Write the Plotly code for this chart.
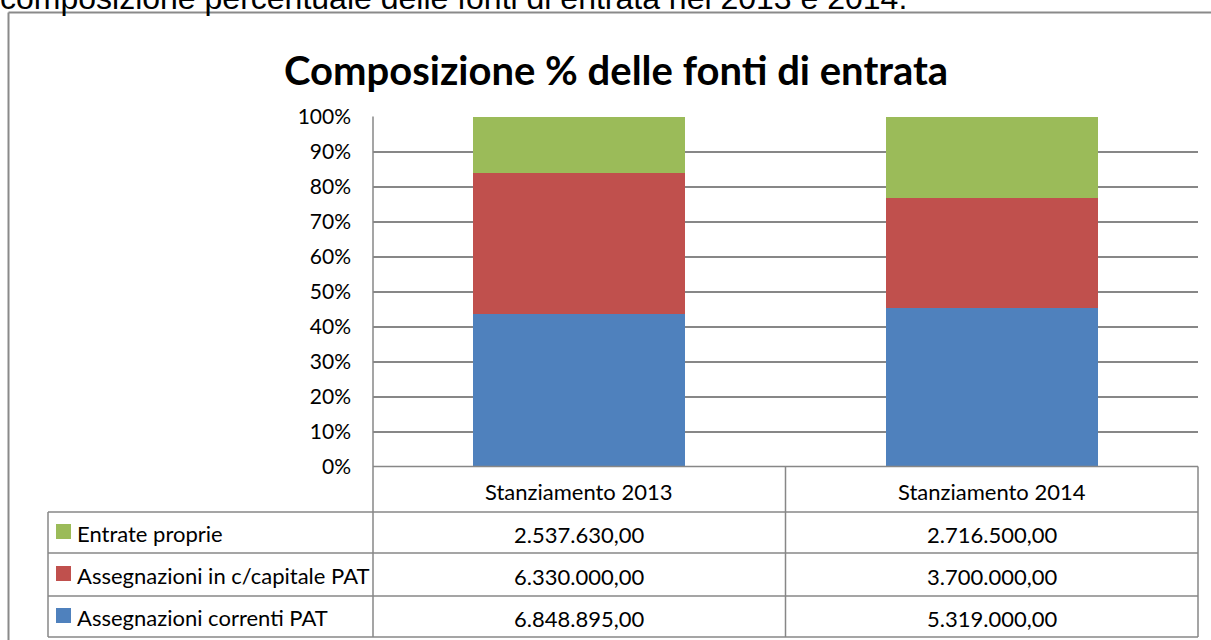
import plotly.graph_objects as go

W, H = 1211, 640

categories = ["Stanziamento 2013", "Stanziamento 2014"]
series_names = ["Assegnazioni correnti PAT", "Assegnazioni in c/capitale PAT", "Entrate proprie"]
correnti = [6848895.00, 5319000.00]
capitale = [6330000.00, 3700000.00]
proprie = [2537630.00, 2716500.00]
colors = ["#4F81BD", "#C0504D", "#9BBB59"]
tick_vals = [0, 10, 20, 30, 40, 50, 60, 70, 80, 90, 100]
tick_text = [f"{v}%" for v in tick_vals]

series_values = [correnti, capitale, proprie]

FONT = "Lato"
GRID = "#878787"


def px(x):
    return x / W


def py(y):
    return 1 - y / H


def fmt_it(v):
    s = f"{v:,.2f}"
    return s.replace(",", "X").replace(".", ",").replace("X", ".")


fig = go.Figure()
for name, vals, col in zip(series_names, series_values, colors):
    fig.add_trace(go.Bar(x=categories, y=vals, name=name, marker=dict(color=col, line=dict(width=0)),
                         width=0.515, showlegend=False))

# plot area pixels
X0, X1 = 373, 1198
Y0, Y1 = 116.5, 466.5

fig.update_layout(
    width=W, height=H,
    margin=dict(l=0, r=0, t=0, b=0, autoexpand=False),
    paper_bgcolor="white", plot_bgcolor="white",
    barmode="stack", barnorm="percent",
    font=dict(family=FONT, size=17, color="black"),
    xaxis=dict(domain=[px(X0), px(X1)], showticklabels=False, showgrid=False, zeroline=False,
               showline=False, ticks=""),
    yaxis=dict(domain=[py(Y1), py(Y0)], range=[0, 100], tickvals=tick_vals, ticktext=tick_text,
               showgrid=True, gridcolor=GRID, gridwidth=1.5, zeroline=False, showline=False,
               ticks="", ticklabelstandoff=21, tickfont=dict(family=FONT, size=21, color="black")),
)

shapes = []


def hline(y, xa, xb, w=1.5, c=GRID):
    shapes.append(dict(type="line", xref="paper", yref="paper", x0=px(xa), x1=px(xb), y0=py(y), y1=py(y),
                       line=dict(color=c, width=w)))


def vline(x, ya, yb, w=1.5, c=GRID):
    shapes.append(dict(type="line", xref="paper", yref="paper", x0=px(x), x1=px(x), y0=py(ya), y1=py(yb),
                       line=dict(color=c, width=w)))


# outer chart border
hline(12.5, 8.5, 1230, w=2, c="#8A8A8A")
vline(8.5, 12.5, 660, w=2, c="#8A8A8A")

# axis line + table
vline(X0, Y0, 637)
hline(Y1, X0, X1)
row_lines = [512, 553, 596, 637]
for y in row_lines:
    hline(y, 48, X1)
vline(48, 512, 637)
XM = (X0 + X1) / 2
vline(XM, Y1, 637)
vline(X1, Y1, 637)

annotations = []
col_centers = [(X0 + XM) / 2, (XM + X1) / 2]
for cx, cat in zip(col_centers, categories):
    annotations.append(dict(x=px(cx), y=py((Y1 + 512) / 2 + 2), xref="paper", yref="paper", text=cat,
                            showarrow=False, xanchor="center", yanchor="middle",
                            font=dict(family=FONT, size=22, color="black")))

# rows: top to bottom -> Entrate proprie, capitale, correnti
rows = list(zip(series_names, series_values, colors))[::-1]
for i, (name, vals, col) in enumerate(rows):
    ya, yb = row_lines[i], row_lines[i + 1]
    yc = (ya + yb) / 2
    shapes.append(dict(type="rect", xref="paper", yref="paper", x0=px(56), x1=px(71),
                       y0=py(yc - 8.5), y1=py(yc + 6.5), fillcolor=col, line=dict(width=0)))
    annotations.append(dict(x=px(75), y=py(yc + 1), xref="paper", yref="paper", text=name, showarrow=False,
                            xanchor="left", yanchor="middle", font=dict(family=FONT, size=22, color="black")))
    for cx, v in zip(col_centers, vals):
        annotations.append(dict(x=px(cx), y=py(yc + 2), xref="paper", yref="paper", text=fmt_it(v),
                                showarrow=False, xanchor="center", yanchor="middle",
                                font=dict(family=FONT, size=22, color="black")))

# chart title
annotations.append(dict(x=px(616), y=py(70), xref="paper", yref="paper",
                        text="<b>Composizione % delle fonti di entrata</b>", showarrow=False,
                        xanchor="center", yanchor="middle", font=dict(family=FONT, size=40, color="black")))

# clipped document text at the very top
annotations.append(dict(x=px(-2), y=py(18.5), xref="paper", yref="paper",
                        text="composizione percentuale delle fonti di entrata nel 2013 e 2014.",
                        showarrow=False, xanchor="left", yanchor="bottom",
                        font=dict(family="Liberation Sans", size=32, color="black")))

fig.update_layout(shapes=shapes, annotations=annotations)
fig.write_html("out.html", config={"displayModeBar": False},
               post_script="document.body.style.margin='0px';document.body.style.overflow='hidden';")
